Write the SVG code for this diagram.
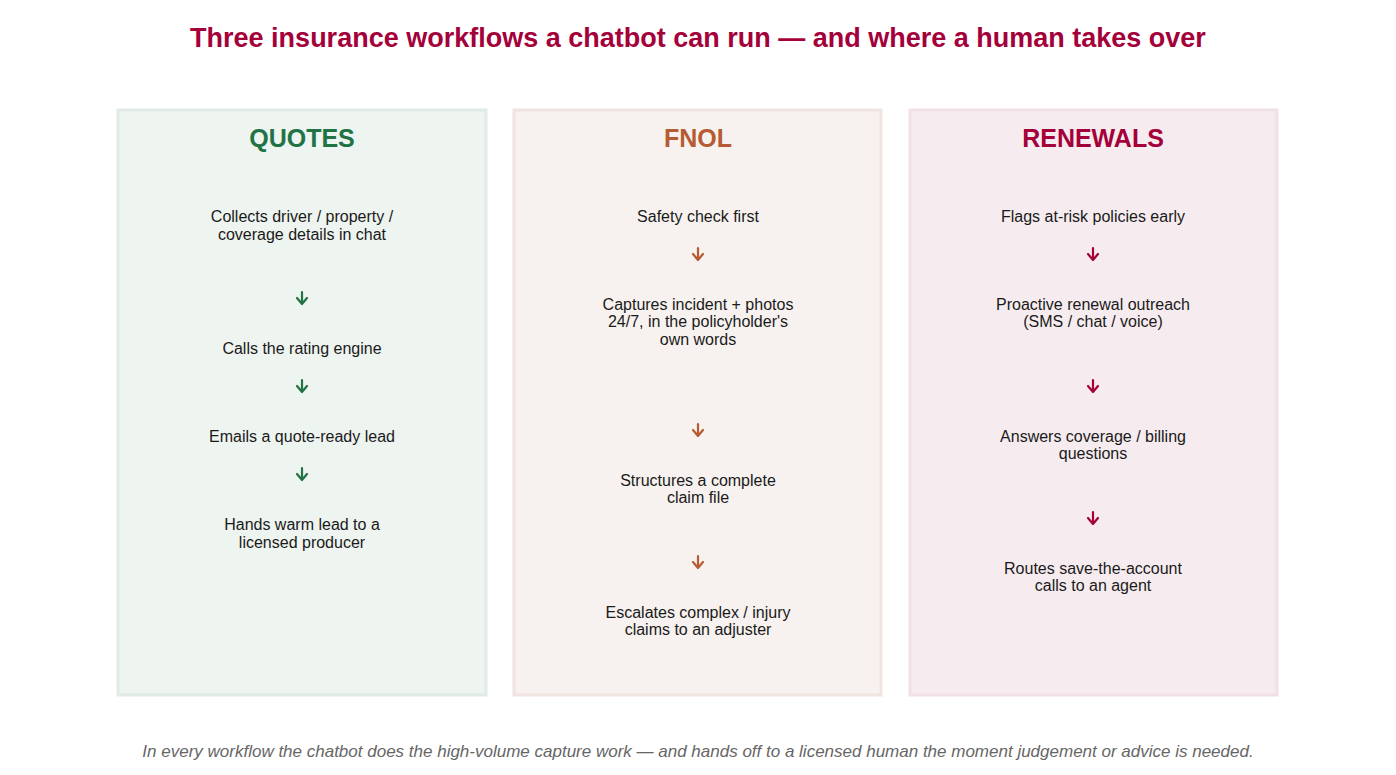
<svg xmlns="http://www.w3.org/2000/svg" width="1396" height="775" viewBox="0 0 1396 775">
<style>
text{font-family:"Liberation Sans",Arial,sans-serif;text-anchor:middle}
.t{font-size:16px;fill:#1a1a1a}
.h{font-size:25px;font-weight:bold}
.p{stroke-width:3}
.a{fill:none;stroke-width:2.2;stroke-linecap:round;stroke-linejoin:round}
.g{stroke:#217346}.o{stroke:#b65b33}.r{stroke:#a4003a}
</style>
<rect width="1396" height="775" fill="#fff"/>
<text x="698" y="47" style="font-size:27px;font-weight:bold;fill:#a4003a">Three insurance workflows a chatbot can run — and where a human takes over</text>
<g id="quotes">
<rect class="p" x="118" y="110" width="368" height="585" fill="#eef4f0" stroke="#e1ebe5"/>
<text class="h" x="302" y="147" fill="#217346">QUOTES</text>
<text class="t" x="302" y="222">Collects driver / property /</text>
<text class="t" x="302" y="240">coverage details in chat</text>
<text class="t" x="302" y="354">Calls the rating engine</text>
<text class="t" x="302" y="442">Emails a quote-ready lead</text>
<text class="t" x="302" y="530">Hands warm lead to a</text>
<text class="t" x="302" y="548">licensed producer</text>
</g>
<g id="fnol">
<rect class="p" x="514" y="110" width="367" height="585" fill="#f7f2ef" stroke="#f1e3df"/>
<text class="h" x="698" y="147" fill="#b65b33">FNOL</text>
<text class="t" x="698" y="222">Safety check first</text>
<text class="t" x="698" y="310">Captures incident + photos</text>
<text class="t" x="698" y="327">24/7, in the policyholder's</text>
<text class="t" x="698" y="345">own words</text>
<text class="t" x="698" y="486">Structures a complete</text>
<text class="t" x="698" y="503">claim file</text>
<text class="t" x="698" y="618">Escalates complex / injury</text>
<text class="t" x="698" y="635">claims to an adjuster</text>
</g>
<g id="renewals">
<rect class="p" x="910" y="110" width="367" height="585" fill="#f6ecef" stroke="#f1e0e5"/>
<text class="h" x="1093" y="147" fill="#a4003a">RENEWALS</text>
<text class="t" x="1093" y="222">Flags at-risk policies early</text>
<text class="t" x="1093" y="310">Proactive renewal outreach</text>
<text class="t" x="1093" y="327">(SMS / chat / voice)</text>
<text class="t" x="1093" y="442">Answers coverage / billing</text>
<text class="t" x="1093" y="459">questions</text>
<text class="t" x="1093" y="574">Routes save-the-account</text>
<text class="t" x="1093" y="591">calls to an agent</text>
</g>
<g id="connectors">
<path class="a g" d="M302 292v12M297 298l5 6 5-6"/>
<path class="a g" d="M302 380v12M297 386l5 6 5-6"/>
<path class="a g" d="M302 468v12M297 474l5 6 5-6"/>
<path class="a o" d="M698 248v12M693 254l5 6 5-6"/>
<path class="a o" d="M698 424v12M693 430l5 6 5-6"/>
<path class="a o" d="M698 556v12M693 562l5 6 5-6"/>
<path class="a r" d="M1093 248v12M1088 254l5 6 5-6"/>
<path class="a r" d="M1093 380v12M1088 386l5 6 5-6"/>
<path class="a r" d="M1093 512v12M1088 518l5 6 5-6"/>
</g>
<text x="698" y="757" style="font-size:17px;font-style:italic;fill:#666">In every workflow the chatbot does the high-volume capture work — and hands off to a licensed human the moment judgement or advice is needed.</text>
</svg>
